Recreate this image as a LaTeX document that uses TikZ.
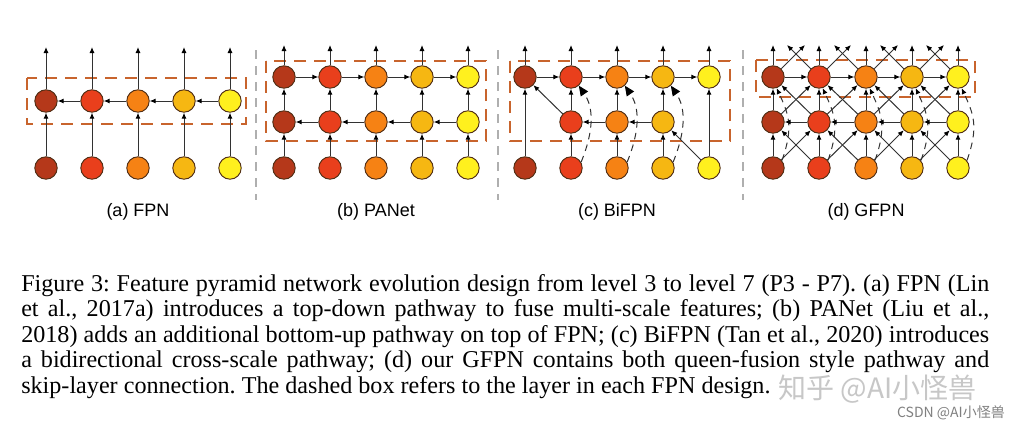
\documentclass[tikz,border=0pt]{standalone}
\usepackage{fontspec}
\setmainfont{Liberation Serif}
\newfontfamily\lblfont{Liberation Sans}
\newfontfamily\cjkfont{Noto Sans CJK SC}
\usetikzlibrary{arrows.meta}
\definecolor{c1}{RGB}{181,56,26}
\definecolor{c2}{RGB}{233,63,28}
\definecolor{c3}{RGB}{246,130,20}
\definecolor{c4}{RGB}{246,183,18}
\definecolor{c5}{RGB}{255,240,30}
\definecolor{nodeline}{RGB}{80,45,20}
\definecolor{linegray}{RGB}{50,50,50}
\definecolor{boxorange}{RGB}{200,100,45}
\definecolor{sepgray}{RGB}{175,175,175}
\begin{document}
\frenchspacing
\begin{tikzpicture}[x=0.75pt,y=-0.75pt,
  fn/.style={circle,draw=nodeline,line width=0.7pt,minimum size=16.8pt,inner sep=0pt},
  conn/.style={draw=linegray,line width=0.75pt,-{Latex[length=4.5pt,width=3.8pt,color=black]}},
  skiparc/.style={draw=linegray,line width=0.75pt,dash pattern=on 5pt off 4pt,-{Triangle[length=7.5pt,width=6.5pt,color=black]}},
  skipsmall/.style={draw=linegray,line width=0.75pt,dash pattern=on 5pt off 4pt,-{Latex[length=4.5pt,width=3.8pt,color=black]}},
  layerbox/.style={draw=boxorange,line width=1.9pt,dash pattern=on 9pt off 6pt},
  sepline/.style={draw=sepgray,line width=1.4pt,dash pattern=on 7pt off 5pt},
  sublabel/.style={font=\lblfont\fontsize{13.5pt}{16pt}\selectfont,inner sep=0pt},
  capline/.style={anchor=base west,inner sep=0pt,font=\fontsize{18.1pt}{21pt}\selectfont}
]
\useasboundingbox (0,0) rectangle (1012,429);
\fill[white] (0,0) rectangle (1012,429);

% separators
\draw[sepline] (256,50) -- (256,200);
\draw[sepline] (498,50) -- (498,200);
\draw[sepline] (743,50) -- (743,200);

% dashed layer boxes
\draw[layerbox] (27,78) rectangle (246,124);
\draw[layerbox] (266,61) rectangle (486,141);
\draw[layerbox] (510,61) rectangle (730,141);
\draw[layerbox] (756,60) rectangle (975,97);

% ---------- (a) FPN
\foreach \i/\x/\c in {1/46/c1,2/92/c2,3/138/c3,4/184/c4,5/230/c5} {
  \node[fn,fill=\c] (a-t\i) at (\x,101) {};
  \node[fn,fill=\c] (a-b\i) at (\x,168) {};
  \coordinate (a-o\i) at (\x,47);
}
\foreach \i in {1,...,5} {
  \draw[conn] (a-b\i) -- (a-t\i);
  \draw[conn] (a-t\i) -- (a-o\i);
}
\foreach \i/\j in {2/1,3/2,4/3,5/4} \draw[conn] (a-t\i) -- (a-t\j);
\node[sublabel] (la) at (138,212) {(a) FPN};

% ---------- (b) PANet
\foreach \i/\x/\c in {1/284/c1,2/330/c2,3/376/c3,4/422/c4,5/468/c5} {
  \node[fn,fill=\c] (b-t\i) at (\x,77) {};
  \node[fn,fill=\c] (b-m\i) at (\x,122) {};
  \node[fn,fill=\c] (b-b\i) at (\x,168) {};
  \coordinate (b-o\i) at (\x,45);
}
\foreach \i in {1,...,5} {
  \draw[conn] (b-b\i) -- (b-m\i);
  \draw[conn] (b-m\i) -- (b-t\i);
  \draw[conn] (b-t\i) -- (b-o\i);
}
\foreach \i/\j in {2/1,3/2,4/3,5/4} {
  \draw[conn] (b-m\i) -- (b-m\j);
  \draw[conn] (b-t\j) -- (b-t\i);
}
\node[sublabel] (lb) at (376,212) {(b) PANet};

% ---------- (c) BiFPN
\foreach \i/\x/\c in {1/525/c1,2/571/c2,3/617/c3,4/663/c4,5/709/c5} {
  \node[fn,fill=\c] (c-t\i) at (\x,77) {};
  \node[fn,fill=\c] (c-b\i) at (\x,168) {};
  \coordinate (c-o\i) at (\x,45);
}
\foreach \i/\x/\c in {2/571/c2,3/617/c3,4/663/c4} {
  \node[fn,fill=\c] (c-m\i) at (\x,122) {};
}
\foreach \i in {2,3,4} {
  \draw[skiparc] (c-b\i.30) .. controls +(13,-32) and +(15,22) .. (c-t\i.-48);
}
\foreach \i in {1,...,5} \draw[conn] (c-t\i) -- (c-o\i);
\draw[conn] (c-b1) -- (c-t1);
\draw[conn] (c-b5) -- (c-t5);
\foreach \i in {2,3,4} {
  \draw[conn] (c-b\i) -- (c-m\i);
  \draw[conn] (c-m\i) -- (c-t\i);
}
\draw[conn] (c-m4) -- (c-m3);
\draw[conn] (c-m3) -- (c-m2);
\draw[conn] (c-b5) -- (c-m4);
\draw[conn] (c-m2) -- (c-t1);
\foreach \i/\j in {1/2,2/3,3/4,4/5} \draw[conn] (c-t\i) -- (c-t\j);
\node[sublabel] (lc) at (617,212) {(c) BiFPN};

% ---------- (d) GFPN
\foreach \i/\x/\c in {1/773/c1,2/819/c2,3/866/c3,4/912/c4,5/958/c5} {
  \node[fn,fill=\c] (d-t\i) at (\x,77) {};
  \node[fn,fill=\c] (d-m\i) at (\x,122) {};
  \node[fn,fill=\c] (d-b\i) at (\x,168) {};
  \coordinate (d-o\i) at (\x,45);
  \coordinate (d-r\i) at (\x+32,45);
  \coordinate (d-l\i) at (\x-32,45);
}
\foreach \i in {1,...,5} {
  \draw[skipsmall] (d-b\i.40) .. controls +(12,-34) and +(12,26) .. (d-t\i.-72);
}
\foreach \i in {1,...,5} {
  \draw[conn] (d-b\i) -- (d-m\i);
  \draw[conn] (d-m\i) -- (d-t\i);
  \draw[conn] (d-t\i) -- (d-o\i);
}
\foreach \i/\j in {1/2,2/3,3/4,4/5} {
  \draw[conn] (d-b\i) -- (d-m\j);
  \draw[conn] (d-b\j) -- (d-m\i);
  \draw[conn] (d-m\i) -- (d-t\j);
  \draw[conn] (d-m\j) -- (d-t\i);
  \draw[conn] (d-m\j) -- (d-m\i);
  \draw[conn] (d-t\i) -- (d-t\j);
  \draw[conn] (d-t\i) -- (d-r\i);
  \draw[conn] (d-t\j) -- (d-l\j);
}
\node[sublabel] (ld) at (866,212) {(d) GFPN};

% ---------- caption
\node[capline] (cap1) at (21,291) {\makebox[726pt][s]{Figure 3: Feature pyramid network evolution design from level 3 to level 7 (P3 - P7). (a) FPN (Lin}};
\node[capline] (cap2) at (21,316.5) {\makebox[726pt][s]{et al., 2017a) introduces a top-down pathway to fuse multi-scale features; (b) PANet (Liu et al.,}};
\node[capline] (cap3) at (21,342) {\makebox[726pt][s]{2018) adds an additional bottom-up pathway on top of FPN; (c) BiFPN (Tan et al., 2020) introduces}};
\node[capline] (cap4) at (21,367.5) {\makebox[726pt][s]{a bidirectional cross-scale pathway; (d) our GFPN contains both queen-fusion style pathway and}};
\node[capline] (cap5) at (21,393) {skip-layer connection. The dashed box refers to the layer in each FPN design.};

% watermarks
\node[anchor=base west,inner sep=0pt,text=black!22,font=\cjkfont\fontsize{21pt}{24pt}\selectfont] (wm1) at (778,398) {知乎 @AI小怪兽};
\node[anchor=base east,inner sep=0pt,text=black!50,font=\cjkfont\fontsize{10.5pt}{12pt}\selectfont] (wm2) at (1005,417) {CSDN @AI小怪兽};
\end{tikzpicture}
\end{document}
